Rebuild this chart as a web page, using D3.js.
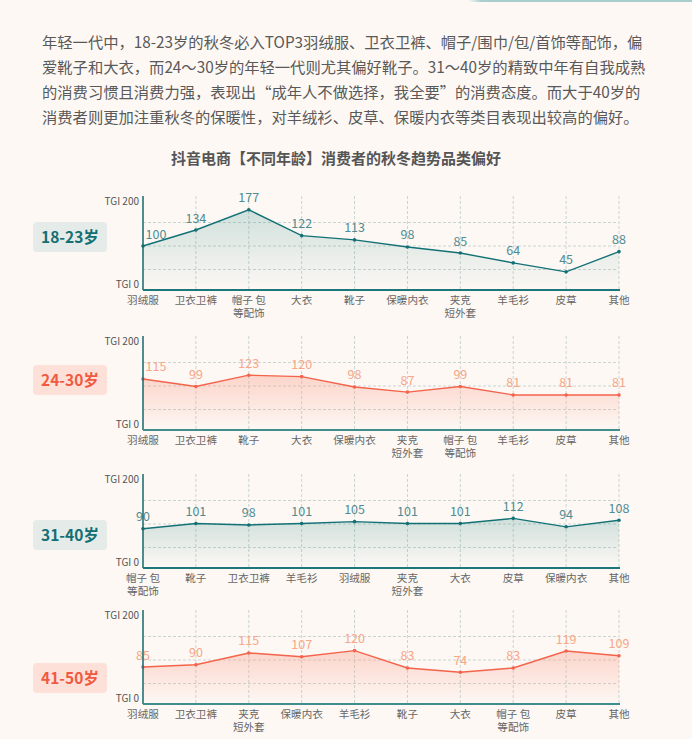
<!DOCTYPE html>
<html>
<head>
<meta charset="utf-8">
<script src="https://cdn.jsdelivr.net/npm/d3@7"></script>
<style>
  html, body { margin: 0; padding: 0; background: #fdf8f4; }
  svg { display: block; font-family: "Noto Sans CJK SC", "Noto Sans", sans-serif; }
</style>
</head>
<body>
<svg id="chart" width="692" height="739"></svg>
<script>
// ---------------- DATA ----------------
const introLines = [
  "年轻一代中，18-23岁的秋冬必入TOP3羽绒服、卫衣卫裤、帽子/围巾/包/首饰等配饰，偏",
  "爱靴子和大衣，而24～30岁的年轻一代则尤其偏好靴子。31～40岁的精致中年有自我成熟",
  "的消费习惯且消费力强，表现出“成年人不做选择，我全要”的消费态度。而大于40岁的",
  "消费者则更加注重秋冬的保暖性，对羊绒衫、皮草、保暖内衣等类目表现出较高的偏好。"
];
const chartTitle = "抖音电商【不同年龄】消费者的秋冬趋势品类偏好";

const ageGroups = ["18-23岁", "24-30岁", "31-40岁", "41-50岁"];

const categories18_23 = ["羽绒服", "卫衣卫裤", "帽子 包\n等配饰", "大衣", "靴子", "保暖内衣", "夹克\n短外套", "羊毛衫", "皮草", "其他"];
const values18_23     = [100, 134, 177, 122, 113, 98, 85, 64, 45, 88];

const categories24_30 = ["羽绒服", "卫衣卫裤", "靴子", "大衣", "保暖内衣", "夹克\n短外套", "帽子 包\n等配饰", "羊毛衫", "皮草", "其他"];
const values24_30     = [115, 99, 123, 120, 98, 87, 99, 81, 81, 81];

const categories31_40 = ["帽子 包\n等配饰", "靴子", "卫衣卫裤", "羊毛衫", "羽绒服", "夹克\n短外套", "大衣", "皮草", "保暖内衣", "其他"];
const values31_40     = [90, 101, 98, 101, 105, 101, 101, 112, 94, 108];

const categories41_50 = ["羽绒服", "卫衣卫裤", "夹克\n短外套", "保暖内衣", "羊毛衫", "靴子", "大衣", "帽子 包\n等配饰", "皮草", "其他"];
const values41_50     = [85, 90, 115, 107, 120, 83, 74, 83, 119, 109];

const yDomain = [0, 200];
const yTickValues = [0, 200];
const yTickLabels = ["TGI 0", "TGI 200"];
const gridValues = [50, 100, 150];

// ---------------- LAYOUT / STYLE ----------------
const panels = [
  { cats: categories18_23, vals: values18_23, theme: "teal" },
  { cats: categories24_30, vals: values24_30, theme: "pink" },
  { cats: categories31_40, vals: values31_40, theme: "teal" },
  { cats: categories41_50, vals: values41_50, theme: "pink" }
];
const panelTops = [196, 336, 474, 610];
const badgeCenters = [237, 380, 535, 678];
const firstLabelDx = [13, 13, 0, 0];
const panelH = 94;
const xLeft = 143, xRight = 619;

const themes = {
  teal: { line: "#137176", area: "#2f8a86", areaOp: 0.22, label: "#4f8c93",
          badgeBg: "#e5ebe8", badgeText: "#136f73", baseAxis: "#1b777a" },
  pink: { line: "#f4634b", area: "#f99a84", areaOp: 0.38, label: "#f7a688",
          badgeBg: "#fde1d9", badgeText: "#f05a40", baseAxis: "#3f8d8c" }
};

const svg = d3.select("#chart");
svg.append("rect").attr("width", 692).attr("height", 739).attr("fill", "#fdf8f4");

const defs = svg.append("defs");
// top strip gradient
const sg = defs.append("linearGradient").attr("id", "strip").attr("x1", 0).attr("x2", 1).attr("y1", 0).attr("y2", 0);
sg.append("stop").attr("offset", 0).attr("stop-color", "#a8cfcb").attr("stop-opacity", 0);
sg.append("stop").attr("offset", 0.06).attr("stop-color", "#a8cfcb").attr("stop-opacity", 1);
sg.append("stop").attr("offset", 1).attr("stop-color", "#a8cfcb").attr("stop-opacity", 1);
svg.append("rect").attr("x", 468).attr("y", 0).attr("width", 224).attr("height", 2).attr("fill", "url(#strip)");

// intro paragraph
svg.append("g").selectAll("text").data(introLines).join("text")
  .attr("x", 42)
  .attr("y", (d, i) => 47.5 + i * 25.3)
  .attr("font-size", 15.3)
  .attr("fill", "#595959")
  .text(d => d);

// title
svg.append("text")
  .attr("x", 336).attr("y", 163.5)
  .attr("text-anchor", "middle")
  .attr("font-size", 15)
  .attr("font-weight", "bold")
  .attr("fill", "#555")
  .text(chartTitle);

panels.forEach((p, pi) => {
  const th = themes[p.theme];
  const top = panelTops[pi], bottom = top + panelH;
  const g = svg.append("g");
  const idx = d3.range(p.vals.length);
  const x = d3.scalePoint().domain(idx).range([xLeft, xRight]);
  const y = d3.scaleLinear().domain(yDomain).range([bottom + 3, top + 3]);

  // gradient
  const gid = "grad" + pi;
  const lg = defs.append("linearGradient").attr("id", gid)
    .attr("gradientUnits", "userSpaceOnUse")
    .attr("x1", 0).attr("x2", 0).attr("y1", y(d3.max(p.vals))).attr("y2", bottom);
  lg.append("stop").attr("offset", 0).attr("stop-color", th.area).attr("stop-opacity", th.areaOp);
  lg.append("stop").attr("offset", 1).attr("stop-color", th.area).attr("stop-opacity", 0.0);

  // horizontal grid
  g.append("g").selectAll("line").data(gridValues).join("line")
    .attr("x1", xLeft).attr("x2", xRight - 3)
    .attr("y1", d => y(d)).attr("y2", d => y(d))
    .attr("stroke", "#c9d5d1").attr("stroke-width", 1).attr("stroke-dasharray", "3,2");
  // vertical grid
  g.append("g").selectAll("line").data(idx.slice(1)).join("line")
    .attr("x1", d => x(d)).attr("x2", d => x(d))
    .attr("y1", top).attr("y2", bottom)
    .attr("stroke", "#c9d5d1").attr("stroke-width", 1).attr("stroke-dasharray", "3,2");

  // area
  g.append("path").datum(idx)
    .attr("d", d3.area().x(i => x(i)).y0(bottom).y1(i => y(p.vals[i])))
    .attr("fill", `url(#${gid})`);
  // line
  g.append("path").datum(idx)
    .attr("d", d3.line().x(i => x(i)).y(i => y(p.vals[i])))
    .attr("fill", "none").attr("stroke", th.line).attr("stroke-width", 1.4);
  // dots
  g.append("g").selectAll("circle").data(idx).join("circle")
    .attr("cx", i => x(i)).attr("cy", i => y(p.vals[i])).attr("r", 1.8)
    .attr("fill", th.line);
  // value labels
  g.append("g").selectAll("text").data(idx).join("text")
    .attr("x", i => x(i) + (i === 0 ? firstLabelDx[pi] : 0))
    .attr("y", i => y(p.vals[i]) - 7.5)
    .attr("text-anchor", "middle")
    .attr("font-size", 12.5)
    .attr("fill", th.label)
    .text(i => p.vals[i]);

  // y axis (left)
  const yAxis = d3.axisLeft(y).tickValues(yTickValues).tickSize(0).tickPadding(4)
    .tickFormat(d => yTickLabels[yTickValues.indexOf(d)]);
  const ya = g.append("g").attr("transform", `translate(${xLeft},0)`).call(yAxis);
  ya.select(".domain").remove();
  ya.selectAll("text")
    .attr("font-size", 10).attr("fill", "#555")
    .attr("font-family", "'Noto Sans CJK SC', sans-serif")
    .attr("dy", d => d === 0 ? "-0.55em" : "0.5em");
  g.append("line").attr("x1", xLeft).attr("x2", xLeft).attr("y1", top).attr("y2", bottom)
    .attr("stroke", "#16686c").attr("stroke-width", 1.5);

  // bottom axis
  g.append("line").attr("x1", xLeft).attr("x2", xRight + 1).attr("y1", bottom).attr("y2", bottom)
    .attr("stroke", th.baseAxis).attr("stroke-width", 2);

  // category labels (one text element per line)
  const labelLines = [];
  idx.forEach(i => p.cats[i].split("\n").forEach((t, k) => labelLines.push({ i, k, t })));
  g.append("g").selectAll("text").data(labelLines).join("text")
    .attr("x", d => x(d.i))
    .attr("y", d => bottom + 14 + d.k * 13)
    .attr("text-anchor", "middle")
    .attr("font-size", 10.6)
    .attr("fill", "#666")
    .text(d => d.t);

  // badge
  const bc = badgeCenters[pi];
  g.append("rect").attr("x", 33).attr("y", bc - 15).attr("width", 74).attr("height", 30)
    .attr("rx", 4).attr("fill", th.badgeBg);
  g.append("text").attr("x", 70).attr("y", bc + 5.5)
    .attr("text-anchor", "middle").attr("font-size", 15.5).attr("font-weight", "bold")
    .attr("fill", th.badgeText).text(ageGroups[pi]);
});
</script>
</body>
</html>
